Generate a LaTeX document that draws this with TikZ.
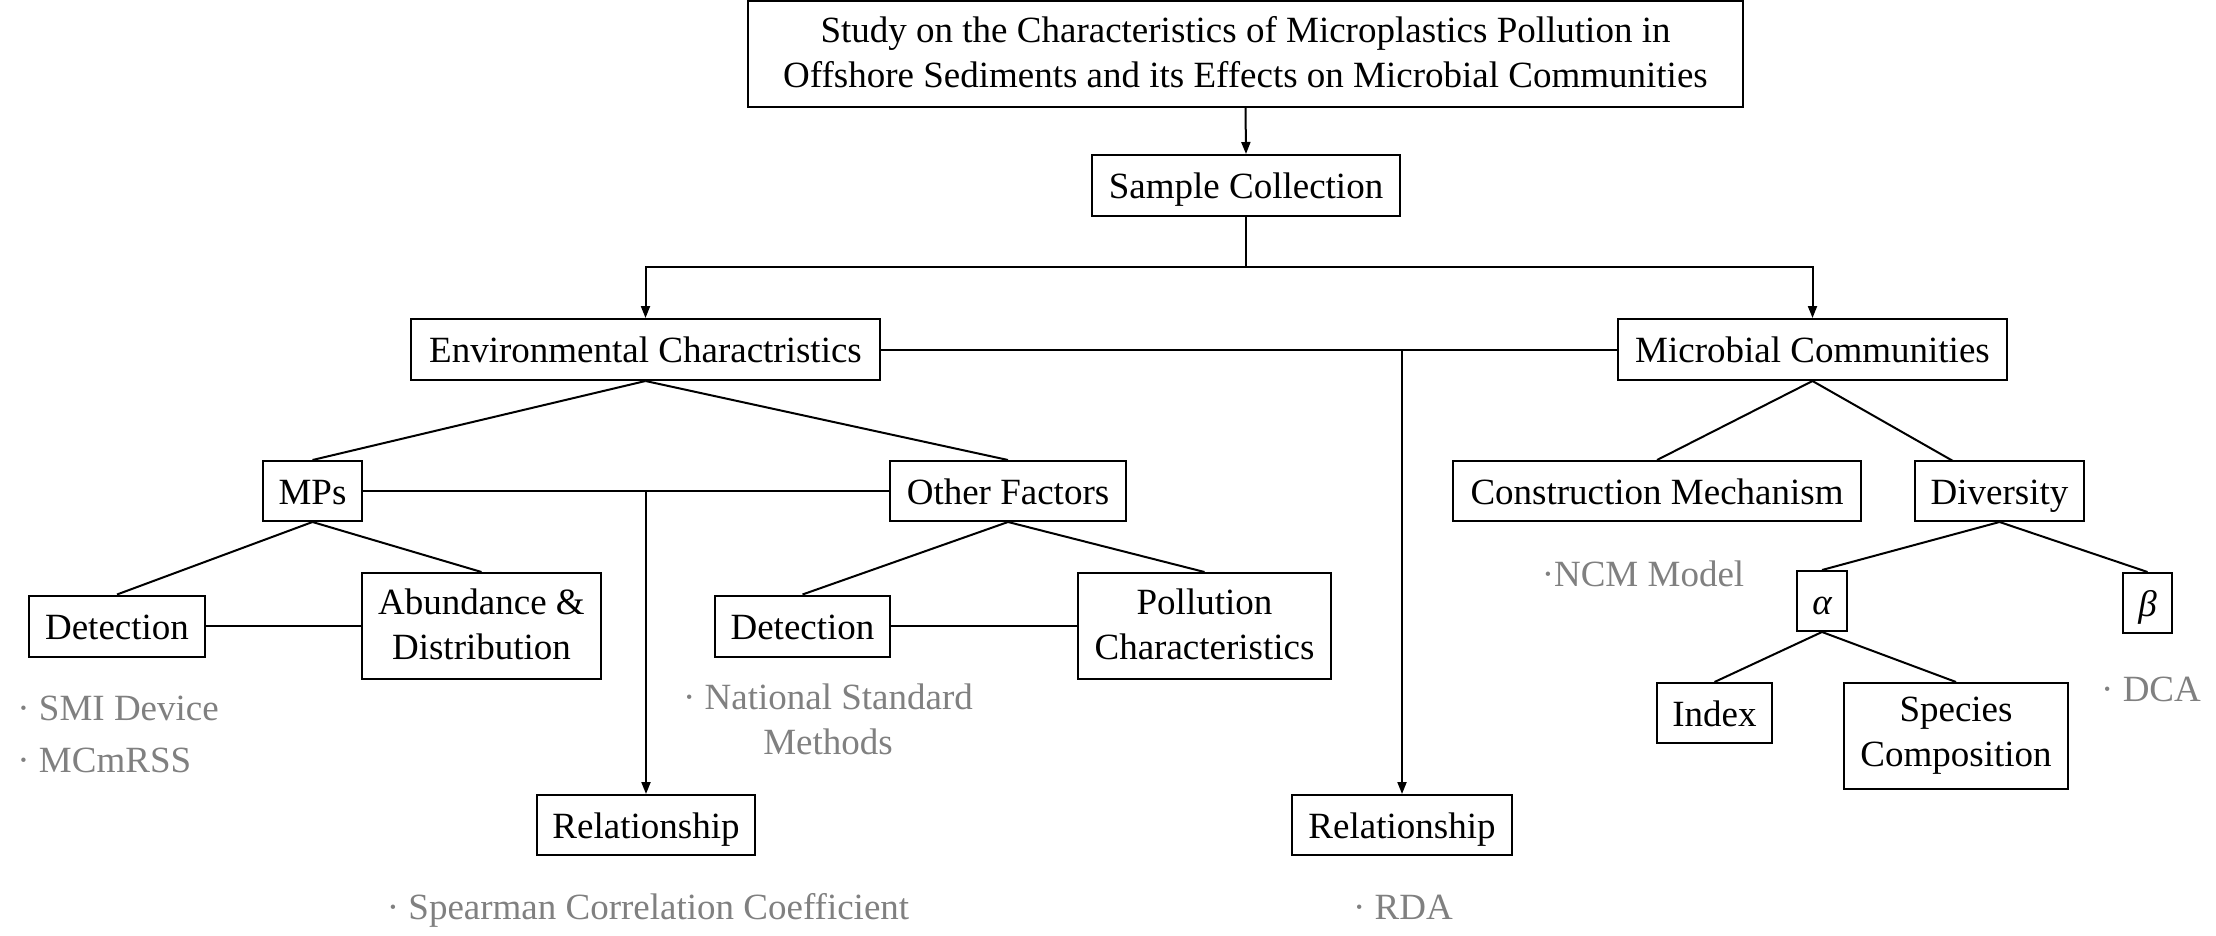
\documentclass[tikz,border=0pt]{standalone}
\usepackage{fontspec}
\setmainfont{Liberation Serif}
\usetikzlibrary{arrows.meta}
\definecolor{notegray}{RGB}{128,128,128}
\newcommand\mystrut{\rule[-4.75pt]{0pt}{22.5pt}}
\newcommand\topstrut{\rule{0pt}{20.75pt}}
\newcommand\hightopstrut{\rule{0pt}{24.25pt}}
\newcommand\botstrut{\rule[-1.75pt]{0pt}{1.75pt}}
\begin{document}
\begin{tikzpicture}[x=0.5pt,y=-0.5pt,
  every node/.style={font=\fontsize{18.5pt}{22.5pt}\selectfont},
  boxbase/.style={draw, line width=1pt, inner sep=0pt, align=center},
  notebase/.style={text=notegray, inner sep=0pt, align=center},
  one/.style={execute at begin node=\mystrut, execute at end node=\mystrut},
  two/.style={execute at begin node=\topstrut, execute at end node=\botstrut},
  twodesc/.style={execute at begin node=\hightopstrut, execute at end node=\botstrut},
  box/.style={boxbase, one},
  boxtwo/.style={boxbase, two},
  boxtwodesc/.style={boxbase, twodesc},
  note/.style={notebase, one},
  notetwo/.style={notebase, two},
  wh/.style 2 args={minimum width=#1*0.5pt, minimum height=#2*0.5pt},
  link/.style={line width=1pt},
  arr/.style={line width=1pt, -{Triangle[length=6pt,width=4.5pt]}}]
\useasboundingbox (0,0) rectangle (2216,936);

% boxes
\node[boxtwo, wh={995}{106}] (title) at (1245.5,54) {Study on the Characteristics of Microplastics Pollution in\\Offshore Sediments and its Effects on Microbial Communities};
\node[box, wh={308}{61}] (sample) at (1246,185.5) {Sample Collection};
\node[box, wh={469}{61}] (env) at (645.5,349.5) {Environmental Charactristics};
\node[box, wh={389}{61}] (micro) at (1812.5,349.5) {Microbial Communities};
\node[box, wh={99}{60}] (mps) at (312.5,491) {MPs};
\node[box, wh={236}{60}] (other) at (1008,491) {Other Factors};
\node[box, wh={176}{61}] (det1) at (117,626) {Detection};
\node[boxtwo, wh={239}{106}] (abund) at (481.5,626) {Abundance \&\\Distribution};
\node[box, wh={175}{61}] (det2) at (802.5,626) {Detection};
\node[boxtwo, wh={253}{106}] (poll) at (1204.5,626) {Pollution\\Characteristics};
\node[box, wh={218}{60}] (rel1) at (646,825) {Relationship};
\node[box, wh={220}{60}] (rel2) at (1402,825) {Relationship};
\node[box, wh={408}{60}] (cm) at (1657,491) {Construction Mechanism};
\node[box, wh={169}{60}] (div) at (1999.5,491) {Diversity};
\node[box, wh={50}{60}] (alpha) at (1822,601) {\itshape α};
\node[box, wh={49}{60}] (beta) at (2147.5,603) {\itshape β};
\node[box, wh={115}{60}] (index) at (1714.5,713) {Index};
\node[boxtwodesc, wh={224}{106}] (species) at (1956,736) {Species\\Composition};

% notes
\node[note, anchor=west] (n1) at (17,707) {· SMI Device};
\node[note, anchor=west] (n2) at (17,759) {· MCmRSS};
\node[notetwo] (n3) at (828,720.5) {· National Standard\\Methods};
\node[note] (n4) at (648,906) {· Spearman Correlation Coefficient};
\node[note] (n5) at (1403,906) {· RDA};
\node[note] (n6) at (1643,573) {·NCM Model};
\node[note] (n7) at (2151,688) {· DCA};

% connectors
\draw[arr] (title.south) -- (sample.north);
\coordinate (split) at (1246,267);
\draw[link] (sample.south) -- (split);
\draw[arr] (split) -| (env.north);
\draw[arr] (split) -| (micro.north);
\draw[link] (env.east) -- (micro.west);
\draw[arr] (rel2.north |- env.east) -- (rel2.north);
\draw[link] (env.south) -- (mps.north);
\draw[link] (env.south) -- (other.north);
\draw[link] (mps.east) -- (other.west);
\draw[arr] (rel1.north |- mps.east) -- (rel1.north);
\draw[link] (mps.south) -- (det1.north);
\draw[link] (mps.south) -- (abund.north);
\draw[link] (det1.east) -- (abund.west);
\draw[link] (other.south) -- (det2.north);
\draw[link] (other.south) -- (poll.north);
\draw[link] (det2.east) -- (poll.west);
\draw[link] (micro.south) -- (cm.north);
\coordinate (divtop) at (1953,461);
\draw[link] (micro.south) -- (divtop);
\draw[link] (div.south) -- (alpha.north);
\draw[link] (div.south) -- (beta.north);
\draw[link] (alpha.south) -- (index.north);
\draw[link] (alpha.south) -- (species.north);
\end{tikzpicture}
\end{document}
